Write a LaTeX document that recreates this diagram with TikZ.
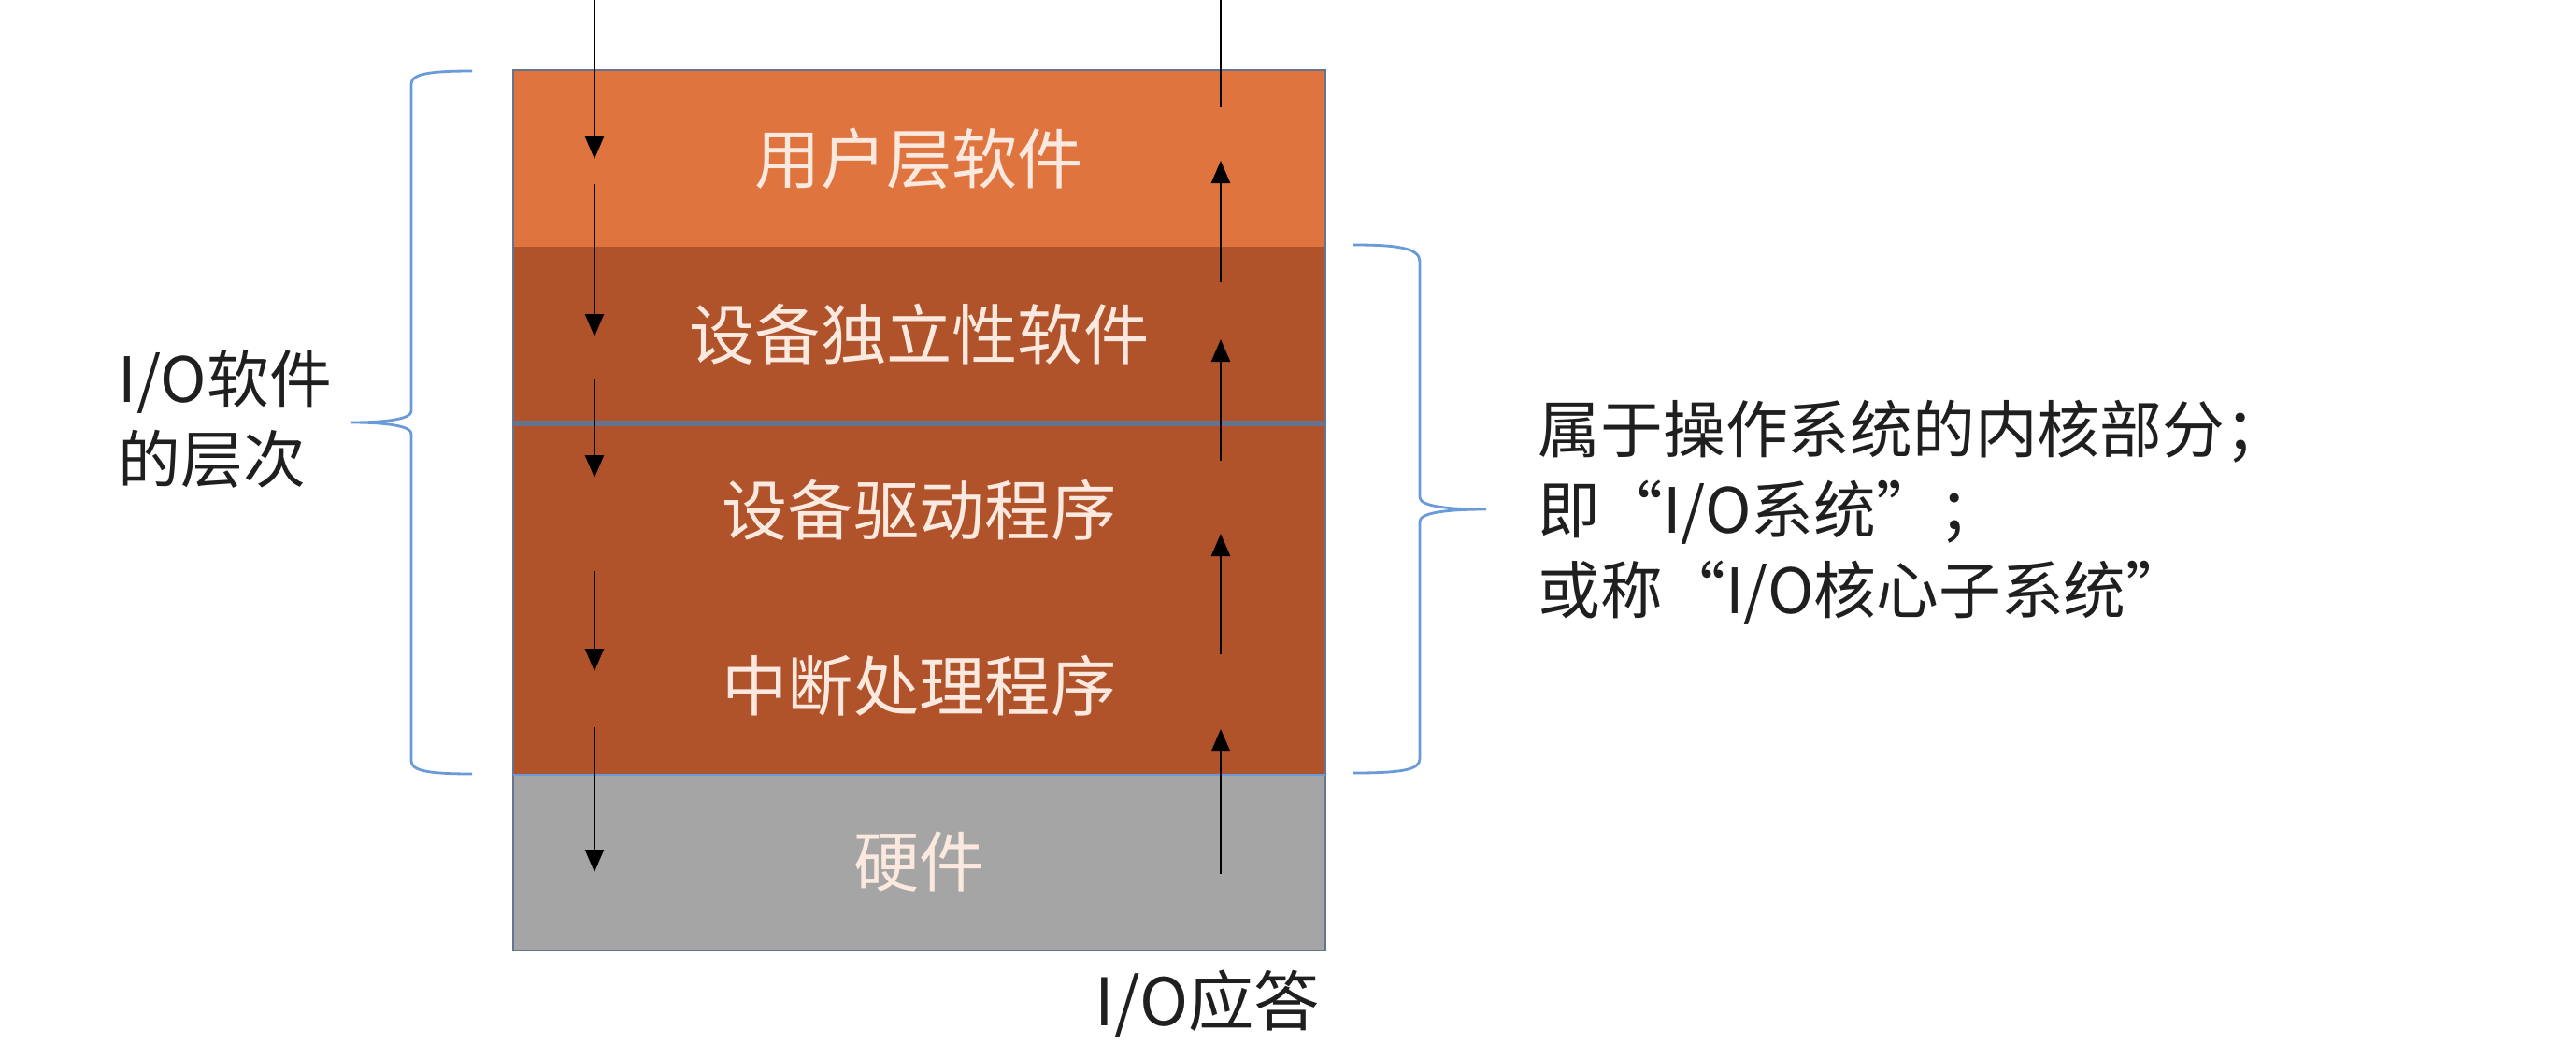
\documentclass[tikz,border=0pt]{standalone}
\usepackage{xcolor}
\usepackage{fontspec}
\setmainfont{Noto Sans CJK SC}
\usetikzlibrary{arrows.meta,positioning}
\definecolor{usercolor}{HTML}{E0743F}
\definecolor{kernelcolor}{HTML}{B0522A}
\definecolor{hwcolor}{HTML}{A5A5A5}
\definecolor{edgecolor}{HTML}{66758F}
\definecolor{bracecolor}{HTML}{6A9BD8}
\definecolor{layertext}{HTML}{FBE9DF}
\tikzset{
  layer/.style={rectangle, minimum width=8.67cm, minimum height=1.88cm, inner sep=0pt, text=layertext, font=\fontsize{20pt}{24pt}\selectfont},
  flow/.style={line width=0.7pt, -{Triangle[length=0.24cm, width=0.2cm]}},
  brace/.style={draw=bracecolor, line width=0.8pt},
  note/.style={align=left, inner sep=0pt, text=black!88, font=\fontsize{19pt}{24.5pt}\selectfont}
}

\begin{document}
\begin{tikzpicture}%
\useasboundingbox (0,0) rectangle (27.56,-11.17);%
% the layers
\node[layer, fill=usercolor] (user) at (9.835, -1.70) {用户层软件};%
\node[layer, fill=kernelcolor] (indep) at (9.835, -3.58) {设备独立性软件};%
\node[layer, fill=kernelcolor] (driver) at (9.835, -5.46) {设备驱动程序};%
\node[layer, fill=kernelcolor] (irq) at (9.835, -7.34) {中断处理程序};%
\node[layer, fill=hwcolor] (hw) at (9.835, -9.22) {硬件};%
\draw[edgecolor, line width=0.5pt] (user.north west) rectangle (hw.south east);%
\draw[edgecolor, line width=1.6pt] (indep.south west) -- (indep.south east);%
\draw[bracecolor, line width=0.5pt] (irq.south west) -- (irq.south east);%
% request going down, answer coming up
\foreach \a/\b [count=\i] in {0/1.70, 1.97/3.60, 4.05/5.11, 6.11/7.18, 7.78/9.33} {%
  \coordinate (reqa\i) at (6.36, -\a);%
  \coordinate (reqb\i) at (6.36, -\b);%
  \draw[flow] (reqa\i) -- (reqb\i);%
}%
\foreach \a/\b [count=\i] in {9.35/7.80, 7.00/5.71, 4.93/3.63, 3.02/1.72} {%
  \coordinate (ansa\i) at (13.06, -\a);%
  \coordinate (ansb\i) at (13.06, -\b);%
  \draw[flow] (ansa\i) -- (ansb\i);%
}%
\coordinate (ansa5) at (13.06, -1.15);%
\coordinate (ansb5) at (13.06, 0);%
\draw[line width=0.7pt] (ansa5) -- (ansb5);%
% braces
\draw[brace] (5.05,-0.76) .. controls (4.55,-0.76) and (4.40,-0.80) .. (4.40,-0.90) -- (4.40,-4.40) .. controls (4.40,-4.48) and (4.15,-4.52) .. (3.75,-4.52) .. controls (4.15,-4.52) and (4.40,-4.56) .. (4.40,-4.64) -- (4.40,-8.14) .. controls (4.40,-8.24) and (4.55,-8.28) .. (5.05,-8.28);%
\draw[brace] (14.48,-2.62) .. controls (14.98,-2.62) and (15.19,-2.66) .. (15.19,-2.80) -- (15.19,-5.32) .. controls (15.19,-5.41) and (15.45,-5.45) .. (15.90,-5.45) .. controls (15.45,-5.45) and (15.19,-5.49) .. (15.19,-5.58) -- (15.19,-8.12) .. controls (15.19,-8.24) and (14.98,-8.27) .. (14.48,-8.27);%
% labels
\node[note, anchor=west] (swlabel) at (1.26, -4.48) {I/O软件\\的层次};%
\node[note, anchor=west] (oslabel) at (16.45, -5.48) {属于操作系统的内核部分；\\即“I/O系统”；\\或称“I/O核心子系统”};%
\node[note, font=\fontsize{20pt}{24pt}\selectfont, below left=0.2cm and 0.05cm of hw.south east] (ack) {I/O应答};%
\end{tikzpicture}
\end{document}
